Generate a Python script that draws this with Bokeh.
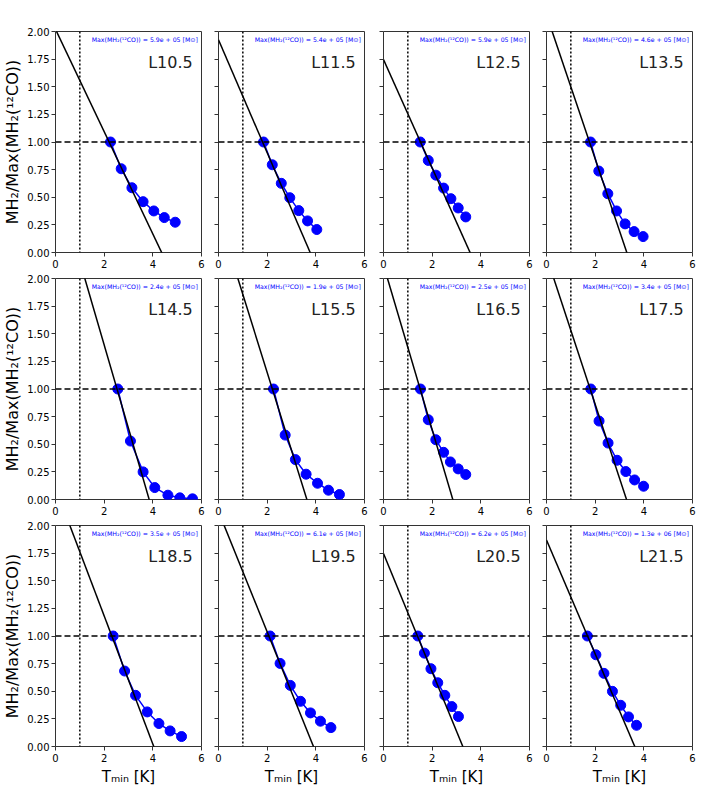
import numpy as np
from bokeh.plotting import figure
from bokeh.layouts import gridplot
from bokeh.models import Range1d, FixedTicker, Label, Span, PrintfTickFormatter, CustomJSTickFormatter
from bokeh.embed import file_html
from bokeh.resources import INLINE

# ---------------- data ----------------
panel_labels = ["L10.5", "L11.5", "L12.5", "L13.5",
                "L14.5", "L15.5", "L16.5", "L17.5",
                "L18.5", "L19.5", "L20.5", "L21.5"]
max_mass = ["5.9e + 05", "5.4e + 05", "5.9e + 05", "4.6e + 05",
            "2.4e + 05", "1.9e + 05", "2.5e + 05", "3.4e + 05",
            "3.5e + 05", "6.1e + 05", "6.2e + 05", "1.3e + 06"]

tmin_L10_5 = [2.26, 2.70, 3.14, 3.60, 4.04, 4.47, 4.92]
ratio_L10_5 = [1.00, 0.758, 0.586, 0.460, 0.376, 0.316, 0.274]
tmin_L11_5 = [1.85, 2.21, 2.58, 2.93, 3.30, 3.66, 4.04]
ratio_L11_5 = [1.00, 0.794, 0.626, 0.496, 0.379, 0.286, 0.208]
tmin_L12_5 = [1.51, 1.84, 2.15, 2.47, 2.77, 3.07, 3.38]
ratio_L12_5 = [1.00, 0.833, 0.700, 0.583, 0.487, 0.403, 0.322]
tmin_L13_5 = [1.81, 2.15, 2.52, 2.88, 3.23, 3.60, 3.97]
ratio_L13_5 = [1.00, 0.737, 0.532, 0.376, 0.259, 0.189, 0.144]
tmin_L14_5 = [2.56, 3.08, 3.60, 4.08, 4.62, 5.11, 5.63]
ratio_L14_5 = [1.00, 0.529, 0.250, 0.108, 0.039, 0.015, 0.006]
tmin_L15_5 = [2.26, 2.74, 3.16, 3.60, 4.07, 4.52, 4.97]
ratio_L15_5 = [1.00, 0.583, 0.361, 0.229, 0.147, 0.084, 0.045]
tmin_L16_5 = [1.52, 1.84, 2.15, 2.47, 2.75, 3.07, 3.38]
ratio_L16_5 = [1.00, 0.722, 0.541, 0.427, 0.340, 0.277, 0.226]
tmin_L17_5 = [1.82, 2.16, 2.53, 2.90, 3.26, 3.62, 3.99]
ratio_L17_5 = [1.00, 0.710, 0.511, 0.355, 0.253, 0.177, 0.120]
tmin_L18_5 = [2.37, 2.84, 3.29, 3.77, 4.25, 4.71, 5.18]
ratio_L18_5 = [1.00, 0.683, 0.463, 0.313, 0.208, 0.141, 0.090]
tmin_L19_5 = [2.12, 2.53, 2.95, 3.37, 3.78, 4.19, 4.62]
ratio_L19_5 = [1.00, 0.752, 0.553, 0.409, 0.304, 0.229, 0.171]
tmin_L20_5 = [1.41, 1.68, 1.95, 2.23, 2.52, 2.81, 3.08]
ratio_L20_5 = [1.00, 0.845, 0.704, 0.577, 0.463, 0.361, 0.271]
tmin_L21_5 = [1.68, 2.03, 2.36, 2.71, 3.05, 3.37, 3.70]
ratio_L21_5 = [1.00, 0.830, 0.662, 0.499, 0.373, 0.268, 0.192]

fit_slope = [-0.463, -0.511, -0.491, -0.652,
             -0.756, -0.705, -0.745, -0.669,
             -0.580, -0.545, -0.536, -0.515]
fit_intercept = [2.020, 1.925, 1.747, 2.152,
                 2.911, 2.561, 2.122, 2.200,
                 2.342, 2.127, 1.747, 1.868]

x_ticks = [0, 2, 4, 6]
y_ticks = [0.0, 0.25, 0.5, 0.75, 1.0, 1.25, 1.5, 1.75, 2.0]
t_threshold = 1.0
ratio_reference = 1.0

tmins = [tmin_L10_5, tmin_L11_5, tmin_L12_5, tmin_L13_5,
         tmin_L14_5, tmin_L15_5, tmin_L16_5, tmin_L17_5,
         tmin_L18_5, tmin_L19_5, tmin_L20_5, tmin_L21_5]
ratios = [ratio_L10_5, ratio_L11_5, ratio_L12_5, ratio_L13_5,
          ratio_L14_5, ratio_L15_5, ratio_L16_5, ratio_L17_5,
          ratio_L18_5, ratio_L19_5, ratio_L20_5, ratio_L21_5]

# ---------------- layout ----------------
FONT = "DejaVu Sans"
col_left = [55, 13, 15, 13]
col_right = [4, 4, 4, 10]
row_top = [31, 6, 6]
row_bottom = [20, 20, 46]

ylab = "MH₂/Max(MH₂(¹²CO))"
xlab = "Tₘᵢₙ [K]"

grid = []
for r in range(3):
    row_figs = []
    for c in range(4):
        i = r * 4 + c
        p = figure(frame_width=146, frame_height=221,
                   x_range=Range1d(0, 6), y_range=Range1d(0, 2),
                   output_backend="svg", toolbar_location=None,
                   min_border_left=col_left[c], min_border_right=col_right[c],
                   min_border_top=row_top[r], min_border_bottom=row_bottom[r])
        p.grid.visible = False
        p.outline_line_color = "#333333"
        p.outline_line_width = 1
        p.background_fill_color = "white"
        p.border_fill_color = "white"

        for ax in (p.xaxis[0], p.yaxis[0]):
            ax.axis_line_color = None
            ax.major_tick_in = 0
            ax.major_tick_out = 4
            ax.major_tick_line_color = "#333333"
            ax.minor_tick_line_color = None
            ax.major_label_text_font = FONT
            ax.major_label_text_font_size = "10px"
            ax.major_label_text_color = "black"
            ax.axis_label_text_font = FONT
            ax.axis_label_text_font_style = "normal"
            ax.axis_label_text_color = "black"
        p.yaxis.axis_label_text_font_size = "16px"
        p.xaxis.axis_label_text_font_size = "15px"
        p.xaxis.ticker = FixedTicker(ticks=x_ticks)
        p.yaxis.ticker = FixedTicker(ticks=y_ticks)
        p.xaxis.major_label_standoff = 3
        if c == 0:
            p.yaxis.formatter = PrintfTickFormatter(format="%.2f")
            p.yaxis.major_label_standoff = 2
            p.yaxis.axis_label = ylab
            p.yaxis.axis_label_standoff = 2
        else:
            p.yaxis.formatter = CustomJSTickFormatter(code="return ''")
            p.yaxis.major_label_standoff = 0
        if r == 2:
            p.xaxis.axis_label = xlab
            p.xaxis.axis_label_standoff = 3

        # reference lines
        p.add_layout(Span(location=ratio_reference, dimension="width",
                          line_color="black", line_width=1.5, line_dash="6 3"))
        p.add_layout(Span(location=t_threshold, dimension="height",
                          line_color="black", line_width=1.5, line_dash="2 2"))

        # data
        p.line(tmins[i], ratios[i], line_color="#0000ff", line_width=1.5)
        p.scatter(tmins[i], ratios[i], size=10, fill_color="#0000ff",
                  line_color="#0000ff")

        # linear fit
        xs = np.array([p.x_range.start, p.x_range.end], dtype=float)
        ys = fit_intercept[i] + fit_slope[i] * xs
        p.line(xs, ys, line_color="black", line_width=1.5)

        # texts
        p.add_layout(Label(x=5.85, y=1.925,
                           text="Max(MH₂(¹²CO)) = " + max_mass[i] + " [M⊙]",
                           text_font=FONT, text_font_size="6.2px",
                           text_color="#0000ff", text_align="right",
                           text_baseline="middle"))
        p.add_layout(Label(x=5.64, y=1.72, text=panel_labels[i],
                           text_font=FONT, text_font_size="16px",
                           text_color="#222222", text_align="right",
                           text_baseline="middle"))
        row_figs.append(p)
    grid.append(row_figs)

layout = gridplot(grid, toolbar_location=None)

open("out.html", "w").write(file_html(layout, INLINE))
